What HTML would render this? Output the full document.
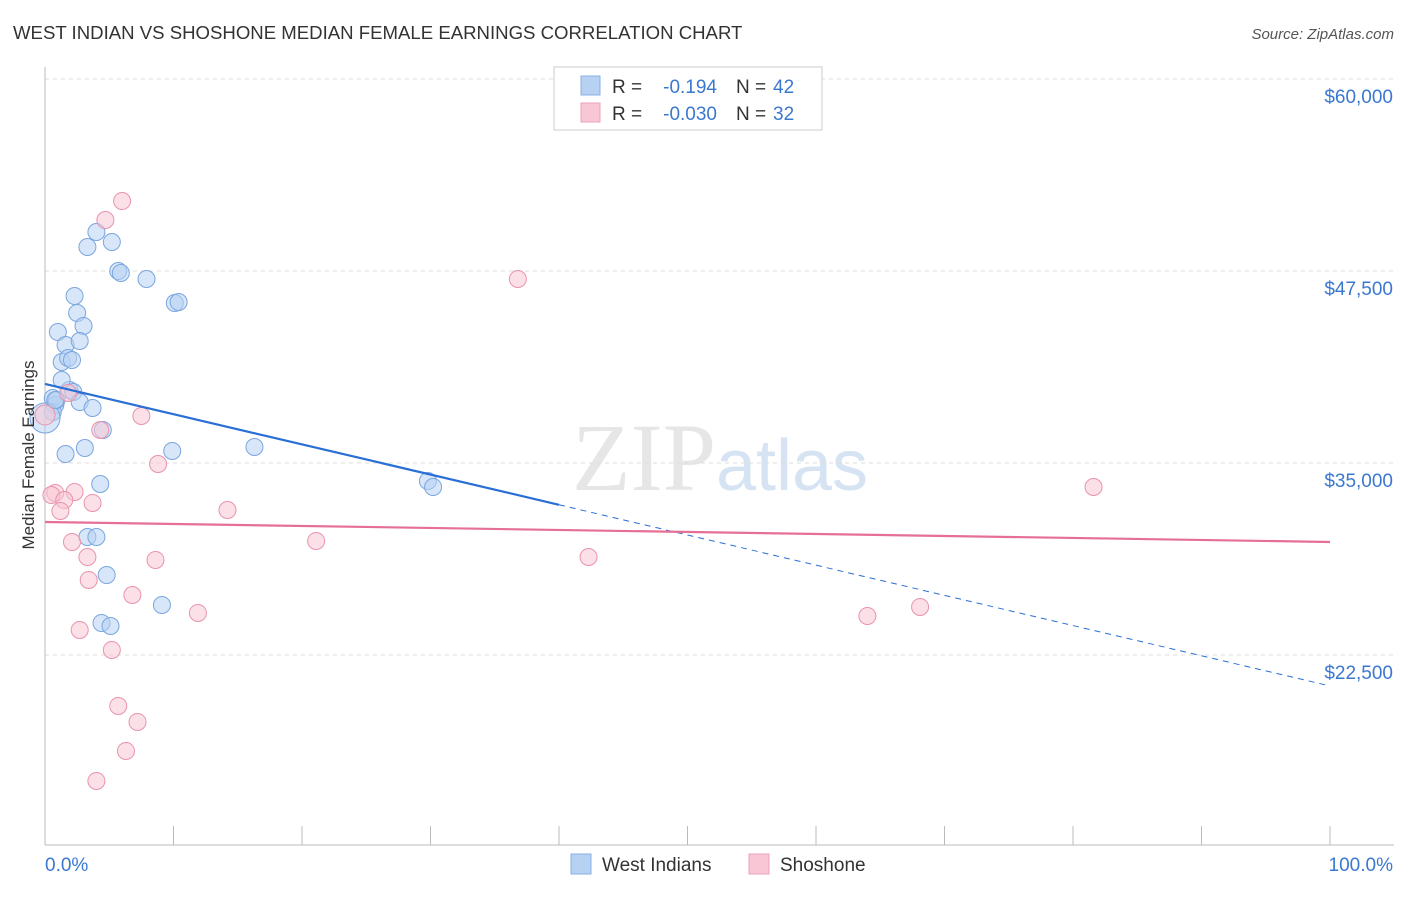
<!DOCTYPE html>
<html><head><meta charset="utf-8"><style>
body{margin:0;background:#fff;font-family:"Liberation Sans",sans-serif}
</style></head><body>
<svg id="chart" width="1406" height="892" xmlns="http://www.w3.org/2000/svg" font-family="Liberation Sans, sans-serif">
<text x="13" y="39" font-size="18.6" fill="#333">WEST INDIAN VS SHOSHONE MEDIAN FEMALE EARNINGS CORRELATION CHART</text>
<text x="1394" y="39" font-size="15" fill="#555" text-anchor="end" font-style="italic">Source: ZipAtlas.com</text>
<text x="720" y="490" font-size="96" fill="#e6e6e6" text-anchor="middle" font-family="Liberation Serif, serif">ZIP<tspan fill="#d5e3f3" font-family="Liberation Sans, sans-serif" font-size="72">atlas</tspan></text>
<g id="grid"></g><g id="axes"></g><g id="marks"></g>
<text transform="translate(34,455) rotate(-90)" font-size="17" fill="#333" text-anchor="middle">Median Female Earnings</text>
<g>
<rect x="554" y="67" width="268" height="63" fill="#fff" stroke="#ccc"/>
<rect x="581" y="76" width="19" height="19" fill="#b7d1f3" stroke="#8ab0e6"/>
<text x="612" y="93" font-size="19" fill="#333">R =</text>
<text x="717" y="93" font-size="19" fill="#3a78d0" text-anchor="end">-0.194</text>
<text x="736" y="93" font-size="19" fill="#333">N =</text>
<text x="773" y="93" font-size="19" fill="#3a78d0">42</text>
<rect x="581" y="103" width="19" height="19" fill="#f8c6d4" stroke="#eda3b8"/>
<text x="612" y="120" font-size="19" fill="#333">R =</text>
<text x="717" y="120" font-size="19" fill="#3a78d0" text-anchor="end">-0.030</text>
<text x="736" y="120" font-size="19" fill="#333">N =</text>
<text x="773" y="120" font-size="19" fill="#3a78d0">32</text>
</g>
<g>
<rect x="571" y="854" width="20" height="20" fill="#b7d1f3" stroke="#8ab0e6"/>
<text x="602" y="871" font-size="19" fill="#333">West Indians</text>
<rect x="749" y="854" width="20" height="20" fill="#f8c6d4" stroke="#eda3b8"/>
<text x="780" y="871" font-size="19" fill="#333">Shoshone</text>
</g>
</svg>
<script>
const yTicks=[60000,47500,35000,22500];
const yTickLabels=["$60,000","$47,500","$35,000","$22,500"];
const blueX=[0.6,0.8,0.6,0.9,0,1.0,1.3,1.6,1.8,2.1,1.9,2.2,1.3,2.3,2.5,3.0,2.7,2.7,3.7,3.3,4.0,5.2,5.7,5.9,7.9,10.1,10.4,3.1,1.6,4.5,4.3,3.3,4.0,4.8,4.4,5.1,9.1,9.9,16.3,29.8,30.2,0.8];
const blueY=[39233,38777,38322,39103,37931,43530,41577,42683,41837,41707,39754,39624,40405,45873,44767,43920,42944,38973,38582,49063,50040,49389,47501,47371,46980,45418,45483,35978,35587,37150,33634,30184,30184,27710,24586,24390,25757,35783,36043,33830,33439,39103];
const pinkX=[6.0,4.7,36.8,7.5,4.3,8.8,0.8,0.5,2.3,1.5,3.7,1.2,14.2,2.1,21.1,3.3,8.6,42.3,3.4,6.8,11.9,64.0,68.1,2.7,5.2,5.7,7.2,6.3,4.0,81.6,1.8,0];
const pinkY=[52058,50821,46980,38061,37150,34936,33049,32918,33114,32593,32398,31877,31942,29859,29924,28882,28687,28882,27385,26408,25237,25041,25627,24130,22828,19182,18141,16253,14300,33439,39559,38126];
const blueTrend=[40145,20484];
const pinkTrend=[31161,29859];
const NS="http://www.w3.org/2000/svg";
const X=p=>45+p*12.85;
const Y=v=>79+(60000-v)*0.01536;
function el(t,a,parent){const e=document.createElementNS(NS,t);for(const k in a)e.setAttribute(k,a[k]);document.getElementById(parent).appendChild(e);return e;}
yTicks.forEach((v,i)=>{
 const l=el('line',{x1:45,x2:1394,y1:Y(v),y2:Y(v),stroke:'#ddd','stroke-dasharray':'4,4'},'grid');
 
 
 const t=el('text',{x:1393,y:Y(v)+24,'text-anchor':'end','font-size':19,fill:'#3a78d0'},'axes');
 t.textContent=yTickLabels[i];
 
 
});
el('line',{x1:45,x2:45,y1:67,y2:845,stroke:'#bbb'},'axes');
el('line',{x1:45,x2:1394,y1:845,y2:845,stroke:'#bbb'},'axes');
for(let i=0;i<=10;i++){el('line',{x1:X(i*10),x2:X(i*10),y1:826,y2:845,stroke:'#bbb'},'axes');}
const xl=el('text',{x:45,y:871,'font-size':19,fill:'#3a78d0'},'axes');xl.textContent='0.0%';


const xr=el('text',{x:1393,y:871,'font-size':19,fill:'#3a78d0','text-anchor':'end'},'axes');xr.textContent='100.0%';


function dot(x,y,r,fill,stroke,name){const c=el('circle',{cx:X(x),cy:Y(y),r:r,fill:fill,'fill-opacity':0.55,stroke:stroke,'stroke-width':1},'marks');
 
 }
blueX.forEach((x,i)=>dot(x,blueY[i],x===0?15:8.5,'#b7d1f3','#7aa6e0','west-indian-point'));
pinkX.forEach((x,i)=>dot(x,pinkY[i],x===0?10:8.5,'#f8c6d4','#e993ad','shoshone-point'));
const bt=v=>blueTrend[0]+(blueTrend[1]-blueTrend[0])*v/100;
const b1=el('line',{x1:X(0),y1:Y(bt(0)),x2:X(40),y2:Y(bt(40)),stroke:'#2a6fd6','stroke-width':2.2},'marks');


const b2=el('line',{x1:X(40),y1:Y(bt(40)),x2:X(100),y2:Y(bt(100)),stroke:'#2a6fd6','stroke-width':1,'stroke-dasharray':'6,5'},'marks');


const p1=el('line',{x1:X(0),y1:Y(pinkTrend[0]),x2:X(100),y2:Y(pinkTrend[1]),stroke:'#e56f95','stroke-width':2.2},'marks');


</script>
</body></html>
